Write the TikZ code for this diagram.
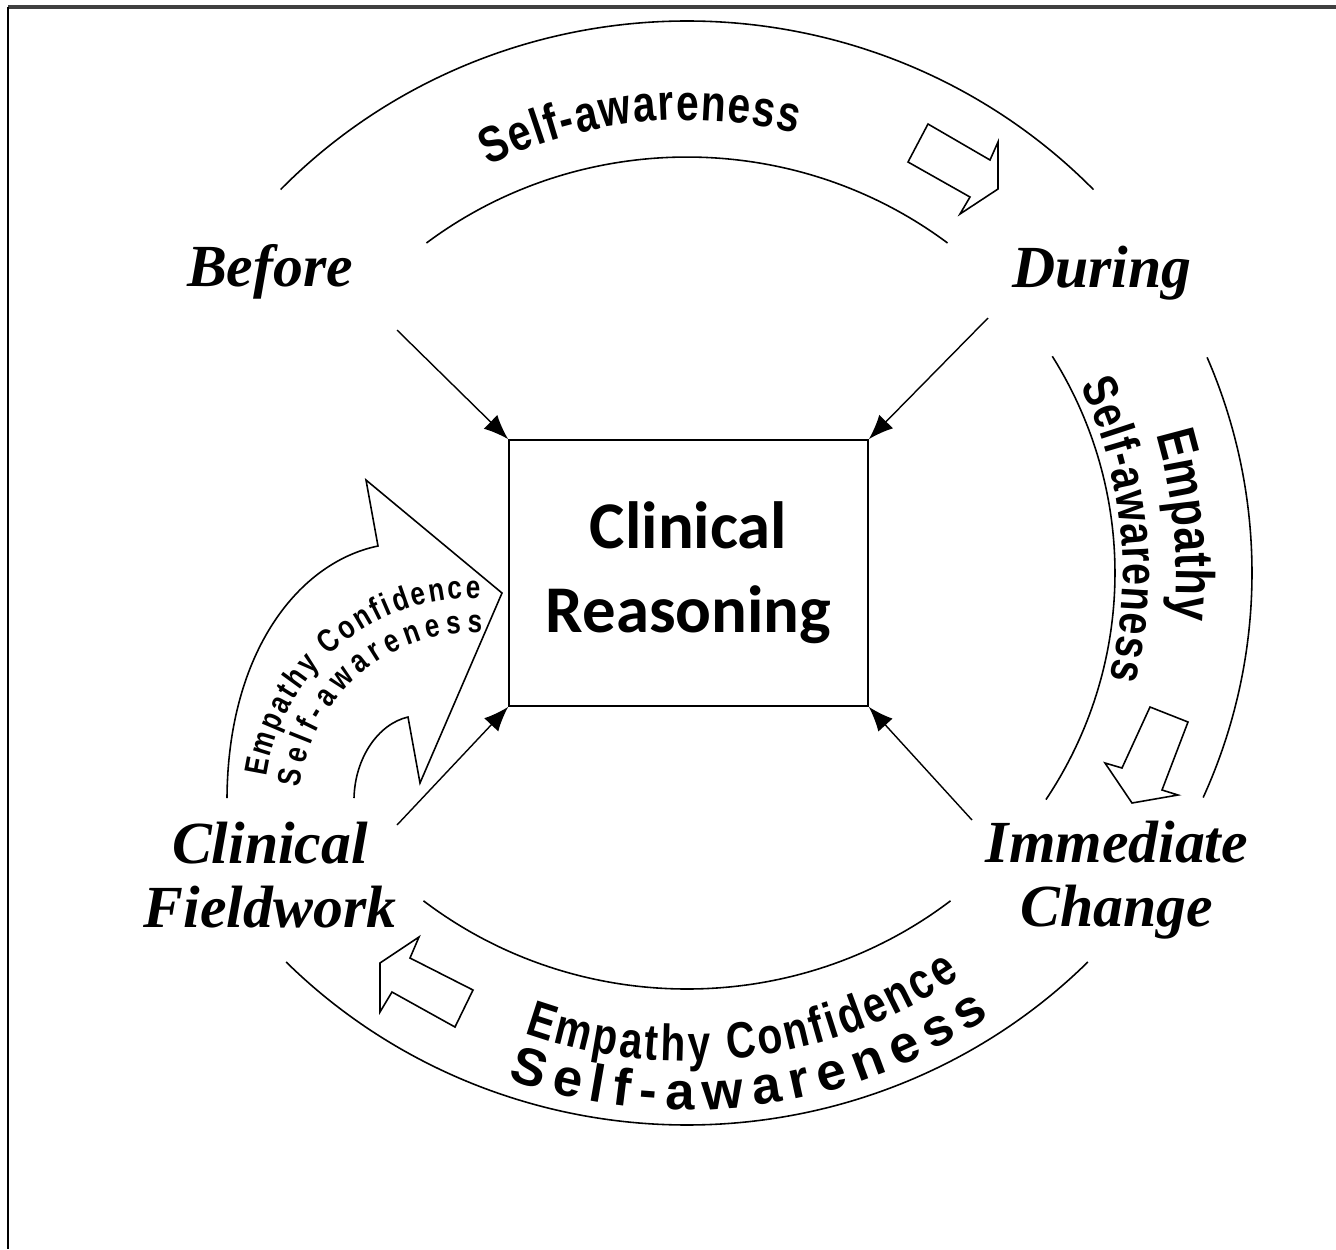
\documentclass[tikz,border=0pt]{standalone}
\usepackage{fontspec}
\setmainfont{Liberation Serif}
\newfontfamily\boxfont{Carlito}
\newfontfamily\arcsans{Liberation Sans}
\newfontfamily\arcnarrow[FakeStretch=0.8]{Liberation Sans}
\usepackage{tikz}
\usetikzlibrary{arrows.meta, decorations.text}

\begin{document}
\begin{tikzpicture}[x=0.02cm, y=-0.02cm,
            phase/.style = {font=\fontsize{34}{36}\selectfont\bfseries\itshape, align=center, inner sep=0pt},
            main/.style = {draw, line width=1pt, minimum width=7.18cm, minimum height=5.32cm, align=center,
                           font=\boxfont\fontsize{38}{48}\selectfont\bfseries},
            conn/.style = {-{Latex[length=14pt, width=11pt]}, line width=0.8pt},
            ring/.style = {line width=0.9pt},
            blk/.style = {line width=0.9pt, fill=white},
            curved/.style = {decorate, decoration={text along path, text align={fit to path}, text={#1}}}]
            \useasboundingbox (0,0) rectangle (1336,1249);
            \draw[line width=2pt, black!75] (8,7) -- (1336,7);
            \draw[line width=1.1pt] (8,7) -- (8,1249);

            \node[main] (CR) at (688.5,573) {Clinical\\Reasoning};
            \node[phase, anchor=base] (Bef) at (270,286) {Before};
            \node[phase, anchor=base] (Dur) at (1102,287) {During};
            \node[phase] (Fld) at (270,875) {Clinical\\Fieldwork};
            \node[phase] (Imm) at (1117,880) {Immediate\\Change};

            \coordinate (p1) at (397,330);
            \coordinate (p2) at (988,318);
            \coordinate (p3) at (397,825);
            \coordinate (p4) at (972,820);
            \draw[conn] (p1) -- (CR.north west);
            \draw[conn] (p2) -- (CR.north east);
            \draw[conn] (p3) -- (CR.south west);
            \draw[conn] (p4) -- (CR.south east);

            \begin{scope}[shift={(687,573)}]
                \draw[ring] (-136:565 and 552) arc[start angle=-136, end angle=-44, x radius=565, y radius=552];
                \draw[ring] (-127.5:428 and 416) arc[start angle=-127.5, end angle=-52.5, x radius=428, y radius=416];
                \draw[ring] (-23:565 and 552) arc[start angle=-23, end angle=24, x radius=565, y radius=552];
                \draw[ring] (-31.4:428 and 416) arc[start angle=-31.4, end angle=33, x radius=428, y radius=416];
                \draw[ring] (44.8:565 and 552) arc[start angle=44.8, end angle=135.2, x radius=565, y radius=552];
                \draw[ring] (52:428 and 416) arc[start angle=52, end angle=128, x radius=428, y radius=416];

                \path[curved={|\arcnarrow\bfseries\fontsize{29}{29}\selectfont|Self-awareness}] (-116:453) arc[start angle=-116, end angle=-76, radius=453];
                \path[curved={|\arcnarrow\bfseries\fontsize{31}{31}\selectfont|Empathy}] (-16.5:489) arc[start angle=-16.5, end angle=5.5, radius=489];
                \path[curved={|\arcnarrow\bfseries\fontsize{28}{28}\selectfont|Self-awareness}] (-25.5:436) arc[start angle=-25.5, end angle=14, radius=436];
                \path[curved={|\arcnarrow\bfseries\fontsize{29}{29}\selectfont|Empathy Confidence}] (109.5:488) arc[start angle=109.5, end angle=56, radius=488];
                \path[curved={|\arcsans\bfseries\fontsize{30}{30}\selectfont|Self-awareness}] (109.5:537) arc[start angle=109.5, end angle=55.6, radius=537];
            \end{scope}

            \draw[blk] (928,124) -- (990,160) -- (998,142) -- (998,189) -- (960,214) -- (970,197) -- (908,162) -- cycle;
            \draw[blk] (1150,707) -- (1188,722) -- (1162,790) -- (1178,795) -- (1132,803) -- (1105,763) -- (1122,768) -- cycle;
            \draw[blk] (419,937) -- (380,963) -- (380,1012) -- (392,992) -- (455,1027) -- (473,990) -- (410,958) -- cycle;

            \draw[blk] (227,798) .. controls (228,650) and (300,562) .. (378,546) -- (366,480) -- (502,593)
                -- (420,783) -- (408,717) .. controls (378,724) and (355,758) .. (354,798);
            \begin{scope}[shift={(473,807)}]
                \path[curved={|\arcnarrow\bfseries\fontsize{18.5}{18.5}\selectfont|Empathy Confidence}] (-171.7:209) arc[start angle=-171.7, end angle=-88, radius=209];
                \path[curved={|\arcnarrow\bfseries\fontsize{18.5}{18.5}\selectfont|Self-awareness}] (-173.6:174) arc[start angle=-173.6, end angle=-87, radius=174];
            \end{scope}
        \end{tikzpicture}
\end{document}
